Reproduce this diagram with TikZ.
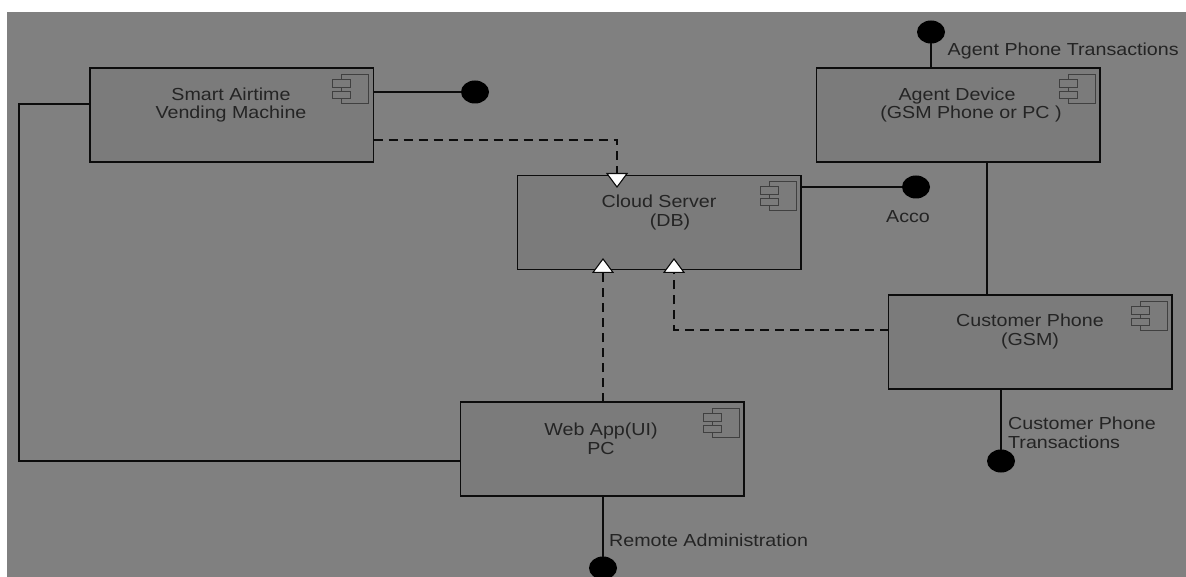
\documentclass[tikz,border=0pt]{standalone}
\usepackage{fontspec}
\setmainfont[FakeStretch=1.13]{Liberation Sans}
\usetikzlibrary{arrows.meta,calc,shapes.geometric}
\definecolor{bggray}{HTML}{808080}
\definecolor{boxgray}{HTML}{7B7B7B}
\definecolor{inkc}{HTML}{0C0C0C}
\definecolor{txtc}{HTML}{242424}
\definecolor{iconc}{HTML}{404040}
\tikzset{
  compbox/.style={draw=inkc,fill=boxgray,line width=1.3pt,rectangle,inner sep=0pt,outer sep=0pt,anchor=north west,minimum width=283.5pt,minimum height=94pt},
  lolli/.style={ellipse,fill=black,inner sep=0pt,outer sep=0pt,minimum width=28pt,minimum height=23pt},
  conn/.style={draw=inkc,line width=1.1pt},
  depend/.style={conn,dash pattern=on 9pt off 6pt,-{Triangle[width=22pt,length=15pt,fill=white,line width=1.1pt]}},
  lbl/.style={text=txtc,font=\fontsize{17.4}{18.7}\selectfont,inner sep=0pt,align=center},
  sidelbl/.style={lbl,anchor=west,align=left},
  icon/.style={draw=iconc,line width=0.9pt,fill=none}
}
\newcommand{\compicon}[1]{%
  \draw[icon] ($(#1.north east)+(-32,6)$) rectangle ($(#1.north east)+(-5,35)$);
  \draw[icon,fill=boxgray] ($(#1.north east)+(-41,11)$) rectangle ($(#1.north east)+(-23,19)$);
  \draw[icon,fill=boxgray] ($(#1.north east)+(-41,23)$) rectangle ($(#1.north east)+(-23,30)$);
}
\begin{document}
\begin{tikzpicture}[x=1pt,y=-1pt]
\useasboundingbox (0,0) rectangle (1186,577);
\clip (0,0) rectangle (1186,577);
\fill[white] (0,0) rectangle (1186,577);
\fill[bggray] (7,12) rectangle (1186,577);

\node[compbox] (smart) at (90,68) {};
\node[compbox] (cloud) at (517.5,175.5) {};
\node[compbox] (web) at (460.5,402) {};
\node[compbox] (agent) at (816.5,68) {};
\node[compbox] (cust) at (888.5,295) {};

\compicon{smart}\compicon{cloud}\compicon{web}\compicon{agent}\compicon{cust}

\node[lbl] (tsmart) at (231,105) {Smart Airtime\\Vending Machine};
\node[lbl] (tcloud) at (659,212.5) {Cloud Server\\\hspace*{22pt}(DB)};
\node[lbl] (tweb) at (601,438.5) {Web App(UI)\\PC};
\node[lbl] (tagent) at (971,105) {\hspace*{-28pt}Agent Device\\(GSM Phone or PC )};
\node[lbl] (tcust) at (1030,331.5) {Customer Phone\\(GSM)};

\node[lolli] (dsmart) at (475,92) {};
\node[lolli] (dcloud) at (916,187) {};
\node[lolli] (dagent) at (931,32) {};
\node[lolli] (dcust) at (1001,461) {};
\node[lolli] (dweb) at (603,568) {};

\node[sidelbl] (lacco) at (886,216.5) {Acco};
\node[sidelbl] (lagent) at (947.5,51.5) {Agent Phone Transactions};
\node[sidelbl] (lcust) at (1008,433) {Customer Phone\\\hspace*{0pt}Transactions};
\node[sidelbl] (lweb) at (609,540) {Remote Administration};

% lollipop connectors
\draw[conn] (smart.east |- dsmart) -- (dsmart);
\draw[conn] (cloud.east |- dcloud) -- (dcloud);
\draw[conn] (dagent) -- (dagent |- agent.north);
\draw[conn] (dcust) -- (dcust |- cust.south);
\draw[conn] (dweb) -- (dweb |- web.south);

% solid links
\coordinate (smartw) at (smart.west |- 0,104);
\coordinate (webw) at (web.west |- 0,461);
\coordinate (railtop) at (19,104);
\coordinate (railbot) at (19,461);
\draw[conn] (smartw) -- (railtop) -- (railbot) -- (webw);
\coordinate (agentdown) at (987,0);
\draw[conn] (agentdown |- agent.south) -- (agentdown |- cust.north);

% dependencies
\coordinate (smarte) at (smart.east |- 0,140);
\coordinate (cloudtop) at (617,188);
\draw[depend] (smarte) -| (cloudtop);
\coordinate (cloudb1) at (603,258);
\draw[depend] (cloudb1 |- web.north) -- (cloudb1);
\coordinate (custw) at (cust.west |- 0,330);
\coordinate (cloudb2) at (674,258);
\draw[depend] (custw) -| (cloudb2);
\end{tikzpicture}
\end{document}
